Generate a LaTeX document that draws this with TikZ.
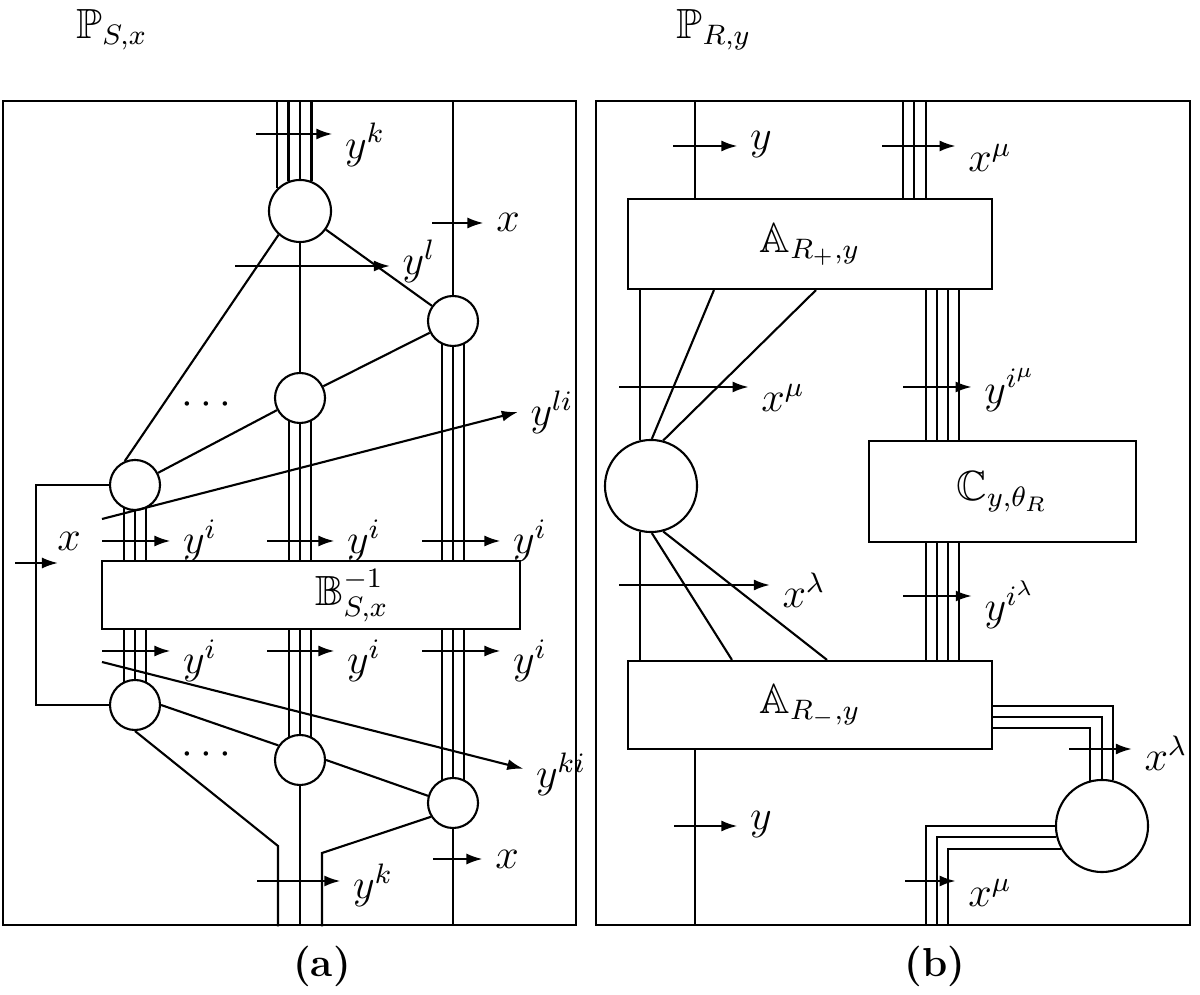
\documentclass[tikz,border=0pt]{standalone}
\usepackage{amsmath}
\usepackage{amssymb}
\usepackage{xcolor}
\usepackage{tikz}
\usetikzlibrary{arrows,arrows.meta}

\begin{document}
\begin{tikzpicture}[x=0.01cm,y=-0.01cm,semithick,
    every node/.style={font=\large,inner ysep=1pt},
    crc/.style={draw,circle,inner sep=0pt,minimum size=0.5cm},
    blk/.style={draw,rectangle,inner sep=0pt},
    frm/.style={draw,rectangle,inner sep=0pt,minimum height=8.24cm},
    sig/.style={-{Latex[length=1.6mm,width=1.1mm]}}]
        \useasboundingbox (0,0) rectangle (1200,995);

        \node[inner sep=1pt] (PS) at (112,30) {$\mathbb{P}_{S,x}$};
        \node[inner sep=1pt] (PR) at (714,30) {$\mathbb{P}_{R,y}$};
        \node[frm,minimum width=5.73cm] (fa) at (289.5,513) {};
        \node[frm,minimum width=5.94cm] (fb) at (893,513) {};
        \node (la) at (322,966) {\fontsize{11.5pt}{14pt}\selectfont\textbf{(a)}};
        \node (lb) at (935,966) {\fontsize{11.5pt}{14pt}\selectfont\textbf{(b)}};

        \node[crc,minimum size=0.62cm] (c1) at (300,211) {};
        \node[crc] (c2) at (453,321) {};
        \node[crc] (c3) at (300,398) {};
        \node[crc] (c4) at (135,485) {};
        \node[crc] (c5) at (135,705) {};
        \node[crc] (c6) at (300,760) {};
        \node[crc] (c7) at (453,803) {};
        \node[blk,minimum width=4.18cm,minimum height=0.68cm] (B) at (311,595) {};
        \node[inner sep=1pt] (Bl) at (352,596) {$\mathbb{B}_{S,x}^{-1}$};
        \node (d1) at (210,405) {$\cdots$};
        \node (d2) at (210,755) {$\cdots$};

        \node (yk1) at (365,145) {$y^k$};
        \node (x1)  at (508,222) {$x$};
        \node (yl)  at (419,261) {$y^l$};
        \node (yli) at (552,412) {$y^{li}$};
        \node (x0)  at (69,541)  {$x$};
        \node (yi1) at (200,541) {$y^i$};
        \node (yi2) at (364,541) {$y^i$};
        \node (yi3) at (530,541) {$y^i$};
        \node (yi4) at (200,661) {$y^i$};
        \node (yi5) at (364,661) {$y^i$};
        \node (yi6) at (530,661) {$y^i$};
        \node (yki) at (561,774) {$y^{ki}$};
        \node (yk2) at (373,885) {$y^k$};
        \node (x2)  at (507,859) {$x$};

        \foreach \a in {135,111,90,69}
            \draw (c1.\a) -- (c1.\a |- fa.north);
        \draw (c2.north) -- (c2.north |- fa.north);
        \draw (c1.south) -- (c3.north);
        \draw (c1) -- (c2);
        \draw (c2) -- (c3);
        \draw (c3) -- (c4);
        \draw (c1.228) -- (c4.113);
        \foreach \a in {-116,-90,-64} {
            \draw (c4.\a) -- (c4.\a |- B.north);
            \draw (c3.\a) -- (c3.\a |- B.north);
            \draw (c2.\a) -- (c2.\a |- B.north);
        }
        \foreach \a in {64,90,116} {
            \draw (c5.\a) -- (c5.\a |- B.south);
            \draw (c6.\a) -- (c6.\a |- B.south);
            \draw (c7.\a) -- (c7.\a |- B.south);
        }
        \draw (c4.west) -- ++(-73,0) |- (c5.west);
        \draw (c5.east) -- (c6.146);
        \draw (c6.east) -- (c7.164);

        \coordinate (k1) at (278,846);
        \coordinate (k3) at (322,853);
        \draw (c5.south) -- (k1) -- (k1 |- fa.south);
        \draw (c6.south) -- (c6.south |- fa.south);
        \draw (c7.212) -- (k3) -- (k3 |- fa.south);
        \draw (c7.south) -- (c7.south |- fa.south);

        \coordinate (t1) at (256,134);
        \coordinate (t2) at (432,223);
        \coordinate (t3) at (235,266);
        \coordinate (t4) at (102,541);
        \coordinate (t5) at (267,541);
        \coordinate (t6) at (422,541);
        \coordinate (t7) at (102,651);
        \coordinate (t8) at (267,651);
        \coordinate (t9) at (422,651);
        \coordinate (t10) at (257,881);
        \coordinate (t11) at (433,859);
        \coordinate (t0) at (15,563);
        \coordinate (h0) at (58,563);
        \coordinate (li0) at (102,519);
        \coordinate (ki0) at (102,662);

        \draw[sig] (t1) -- (t1 -| yk1.west);
        \draw[sig] (t2) -- (t2 -| x1.west);
        \draw[sig] (t3) -- (t3 -| yl.west);
        \draw[sig] (t4) -- (t4 -| yi1.west);
        \draw[sig] (t5) -- (t5 -| yi2.west);
        \draw[sig] (t6) -- (t6 -| yi3.west);
        \draw[sig] (t7) -- (t7 -| yi4.west);
        \draw[sig] (t8) -- (t8 -| yi5.west);
        \draw[sig] (t9) -- (t9 -| yi6.west);
        \draw[sig] (t10) -- (t10 -| yk2.west);
        \draw[sig] (t11) -- (t11 -| x2.west);
        \draw[sig] (t0) -- (h0);
        \draw[sig] (li0) -- (yli.west);
        \draw[sig] (ki0) -- (yki.172);

        \node[blk,minimum width=3.64cm,minimum height=0.9cm] (Ap) at (810,244) {$\mathbb{A}_{R_+,y}$};
        \node[blk,minimum width=2.67cm,minimum height=1.01cm] (Cy) at (1002.5,491.5) {$\mathbb{C}_{y,\theta_R}$};
        \node[blk,minimum width=3.64cm,minimum height=0.88cm] (Am) at (810,705) {$\mathbb{A}_{R_-,y}$};
        \node[crc,minimum size=0.92cm] (e) at (651,486) {};
        \node[crc,minimum size=0.92cm] (f) at (1102,826) {};

        \node (y1)   at (761,145)  {$y$};
        \node (xm1)  at (990,158)  {$x^\mu$};
        \node (xm2)  at (783,398)  {$x^\mu$};
        \node (yim)  at (1010,390) {$y^{i^\mu}$};
        \node (xl1)  at (804,590)  {$x^\lambda$};
        \node (yil)  at (1010,605) {$y^{i^\lambda}$};
        \node (xl2)  at (1166,753) {$x^\lambda$};
        \node (y2)   at (761,825)  {$y$};
        \node (xm3)  at (990,893)  {$x^\mu$};

        \draw ([xshift=-1.15cm]Ap.north) -- ([xshift=-1.15cm]Ap.north |- fb.north);
        \draw ([xshift=-1.15cm]Am.south) -- ([xshift=-1.15cm]Am.south |- fb.south);
        \foreach \s in {0.93,1.04,1.16}
            \draw ([xshift=\s cm]Ap.north) -- ([xshift=\s cm]Ap.north |- fb.north);
        \foreach \s in {1.16,1.27,1.38,1.49} {
            \draw ([xshift=\s cm]Ap.south) -- ([xshift=\s cm]Ap.south |- Cy.north);
            \draw ([xshift=\s cm]Am.north) -- ([xshift=\s cm]Am.north |- Cy.south);
        }
        \draw (e.104) -- (e.104 |- Ap.south);
        \draw (e.256) -- (e.256 |- Am.north);
        \draw ([xshift=-0.96cm]Ap.south) -- (e.89);
        \draw ([xshift=0.06cm]Ap.south) -- (e.75);
        \draw (e.-89) -- ([xshift=-0.78cm]Am.north);
        \draw (e.-75) -- ([xshift=0.17cm]Am.north);

        \draw ([yshift=-0.01cm]Am.east) -| (f.77);
        \draw ([yshift=-0.12cm]Am.east) -| (f.north);
        \draw ([yshift=-0.23cm]Am.east) -| (f.105);
        \draw (f.west) -| ([xshift=0.33cm]fb.south);
        \draw (f.194) -| ([xshift=0.44cm]fb.south);
        \draw (f.209) -| ([xshift=0.55cm]fb.south);

        \coordinate (s1) at (673,146);
        \coordinate (s2) at (882,146);
        \coordinate (s3) at (619,387);
        \coordinate (s4) at (903,387);
        \coordinate (s5) at (619,585);
        \coordinate (s6) at (903,596);
        \coordinate (s7) at (1069,749);
        \coordinate (s8) at (674,826);
        \coordinate (s9) at (905,881);

        \draw[sig] (s1) -- (s1 -| y1.west);
        \draw[sig] (s2) -- (s2 -| xm1.west);
        \draw[sig] (s3) -- (s3 -| xm2.west);
        \draw[sig] (s4) -- (s4 -| yim.west);
        \draw[sig] (s5) -- (s5 -| xl1.west);
        \draw[sig] (s6) -- (s6 -| yil.west);
        \draw[sig] (s7) -- (s7 -| xl2.west);
        \draw[sig] (s8) -- (s8 -| y2.west);
        \draw[sig] (s9) -- (s9 -| xm3.west);
    \end{tikzpicture}
\end{document}
